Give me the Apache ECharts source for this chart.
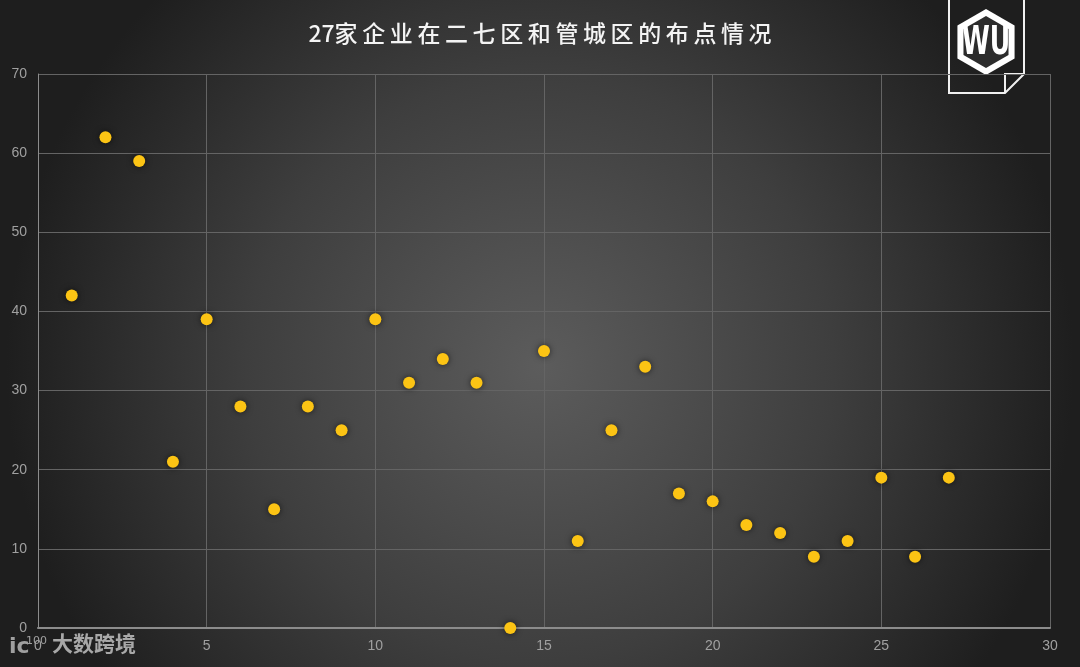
<!DOCTYPE html>
<html>
<head>
<meta charset="utf-8">
<script src="https://cdn.jsdelivr.net/npm/echarts@6/dist/echarts.min.js"></script>
<style>
  html, body { margin: 0; padding: 0; }
  #chart { width: 1080px; height: 667px; }
</style>
</head>
<body>
<div id="chart"></div>
<script>
// 企业序号 与 布点数
const companyIndex = [1, 2, 3, 4, 5, 6, 7, 8, 9, 10, 11, 12, 13, 14, 15, 16, 17, 18, 19, 20, 21, 22, 23, 24, 25, 26, 27];
const sitesCount = [42, 62, 59, 21, 39, 28, 15, 28, 25, 39, 31, 34, 31, 0, 35, 11, 25, 33, 17, 16, 13, 12, 9, 11, 19, 9, 19];

const titleText = '27家企业在二七区和管城区的布点情况';
const watermark = '大数跨境';

const points = companyIndex.map((x, i) => [x, sitesCount[i]]);

const chart = echarts.init(document.getElementById('chart'));

// 六边形顶点
function hexPts(cx, cy, r) {
    let pts = [];
    for (let k = 0; k < 6; k++) {
        let a = -Math.PI / 2 + k * Math.PI / 3;
        pts.push([cx + r * Math.cos(a), cy + r * Math.sin(a)]);
    }
    return pts;
}

// 标题字距稍宽，"27" 保持紧凑
const spacedTitle = '27' + titleText.slice(2).split('').join('\u2009');

chart.setOption({
    backgroundColor: {
        type: 'radial', x: 0.5, y: 0.55, r: 0.8,
        colorStops: [
            { offset: 0, color: '#5c5c5c' },
            { offset: 0.55, color: '#3e3e3e' },
            { offset: 1, color: '#1e1e1e' }
        ]
    },
    title: {
        text: spacedTitle,
        left: 'center',
        top: 17,
        textStyle: { color: '#f4f4f4', fontSize: 23, fontWeight: 500, fontFamily: 'Noto Sans CJK SC' }
    },
    grid: { left: 38, right: 30, top: 74, bottom: 39 },
    xAxis: {
        type: 'value', min: 0, max: 30, interval: 5,
        axisLine: { lineStyle: { color: '#8c8c8c', width: 2 } },
        axisTick: { show: false },
        splitLine: { lineStyle: { color: '#646464' } },
        axisLabel: { color: '#a0a0a0', fontSize: 14, margin: 11 }
    },
    yAxis: {
        type: 'value', min: 0, max: 70, interval: 10,
        axisLine: { show: true, lineStyle: { color: '#8c8c8c', width: 1 } },
        axisTick: { show: false },
        splitLine: { lineStyle: { color: '#646464' } },
        axisLabel: { color: '#a0a0a0', fontSize: 14, margin: 11 }
    },
    series: [{
        type: 'scatter',
        data: points,
        symbolSize: 12,
        itemStyle: {
            color: '#fcc414',
            opacity: 1,
            shadowBlur: 6,
            shadowColor: 'rgba(0,0,0,0.6)'
        }
    }],
    graphic: [
        {
            type: 'polyline',
            shape: { points: [[949, -2], [949, 93], [1005, 93], [1024, 74], [1024, -2]] },
            style: { stroke: '#f0f0f0', fill: null, lineWidth: 2 }
        },
        {
            type: 'polyline',
            shape: { points: [[1005, 93], [1005, 74], [1024, 74]] },
            style: { stroke: '#f0f0f0', fill: null, lineWidth: 2 }
        },
        {
            type: 'polygon',
            shape: { points: hexPts(986, 42, 33) },
            style: { fill: '#ffffff' }
        },
        {
            type: 'polygon',
            shape: { points: hexPts(986, 42, 26) },
            style: { fill: '#2c2c2c' }
        },
        {
            type: 'text',
            x: 986, y: 44,
            scaleY: 1.4,
            style: {
                text: 'WU', fill: '#ffffff', fontSize: 28, fontWeight: 'bold',
                fontFamily: 'DejaVu Sans Condensed', align: 'center', verticalAlign: 'middle'
            }
        },
        {
            type: 'text',
            left: 9, top: 636,
            style: { text: 'ic', fill: '#a0a0a0', fontSize: 22, fontWeight: 'bold', fontFamily: 'DejaVu Sans' }
        },
        {
            type: 'text',
            left: 26, top: 636,
            style: { text: '100', fill: '#a0a0a0', fontSize: 11, fontFamily: 'DejaVu Sans' }
        },
        {
            type: 'text',
            left: 52, top: 633,
            style: { text: watermark, fill: '#a8a8a8', fontSize: 21, fontWeight: 'bold', fontFamily: 'Noto Sans CJK SC' }
        }
    ]
});
</script>
</body>
</html>
